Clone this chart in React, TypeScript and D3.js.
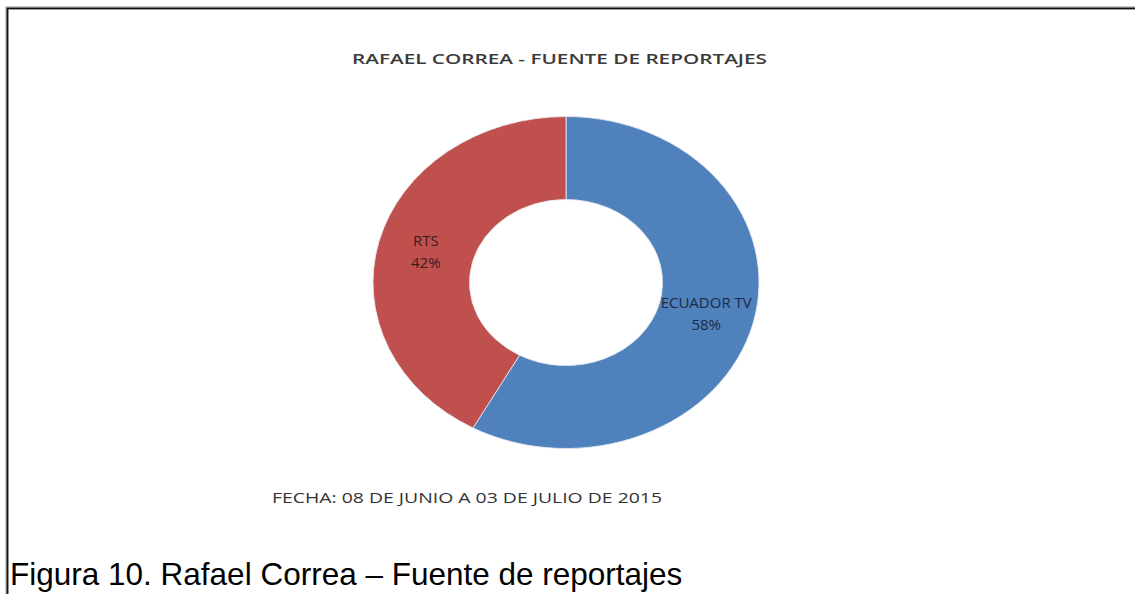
import React from "react";
import * as d3 from "d3";

const categories = ["ECUADOR TV", "RTS"];
const values = [58, 42];
const colors = ["#4F81BD", "#C0504D"];
const labelColors = ["#1c2a44", "#3c1c1c"];
const title = "RAFAEL CORREA - FUENTE DE REPORTAJES";
const dateText = "FECHA: 08 DE JUNIO A 03 DE JULIO DE 2015";
const caption = "Figura 10. Rafael Correa – Fuente de reportajes";

export default function App() {
  const W = 1135, H = 594;
  const cx = 566, cy = 282.5;
  const ry = 166, rx = 193;
  const sx = rx / ry;
  const inner = 83;

  const pie = d3.pie<number>().sort(null).value((d) => d);
  const arcs = pie(values);
  const arc = d3.arc<d3.PieArcDatum<number>>().innerRadius(inner).outerRadius(ry);

  const font = "'Open Sans', 'DejaVu Sans', sans-serif";

  return (
    <svg width={W} height={H} style={{ position: "absolute", left: 0, top: 0, background: "#fff" }}>
      <rect x={0} y={0} width={W} height={H} fill="#fff" />
      {/* border */}
      <path d={`M7,${H + 5} V8 H${W + 5}`} fill="none" stroke="#9a9a9a" strokeWidth={3} />
      <path d={`M7.5,${H + 5} V8.5 H${W + 5}`} fill="none" stroke="#111" strokeWidth={1.6} />

      <text x={559.5} y={64} textAnchor="middle" fontFamily={font} fontWeight="600" fontSize={15} fill="#3a3a3a" textLength={415} lengthAdjust="spacingAndGlyphs">{title}</text>

      <g transform={`translate(${cx},${cy}) scale(${sx},1)`}>
        {arcs.map((a, i) => (
          <path key={categories[i]} d={arc(a) || ""} fill={colors[i]} stroke="#e8e8f0" strokeWidth={0.8} />
        ))}
      </g>

      {arcs.map((a, i) => {
        const [px, py] = arc.centroid(a);
        const x = cx + px * sx;
        const y = cy + py;
        return (
          <g key={"l" + i}>
            <text x={x} y={y - 11 + 5.5} textAnchor="middle" fontFamily={font} fontSize={15} fill={labelColors[i]}>{categories[i]}</text>
            <text x={x} y={y + 11 + 5.5} textAnchor="middle" fontFamily={font} fontSize={15} fill={labelColors[i]}>{values[i]}%</text>
          </g>
        );
      })}

      <text x={272} y={503} fontFamily={font} fontSize={14} fill="#333" textLength={390} lengthAdjust="spacingAndGlyphs">{dateText}</text>

      <text x={10} y={585} fontFamily="'Liberation Sans', Arial, sans-serif" fontSize={31.5} fill="#000">{caption}</text>
    </svg>
  );
}
